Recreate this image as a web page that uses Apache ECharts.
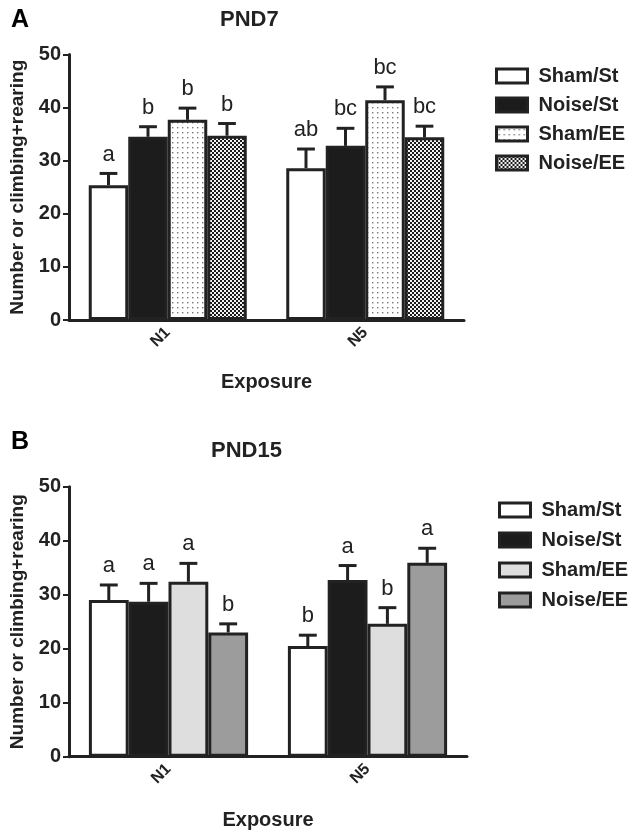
<!DOCTYPE html>
<html>
<head>
<meta charset="utf-8">
<script src="https://cdn.jsdelivr.net/npm/echarts@6/dist/echarts.min.js"></script>
<style>
  html, body { margin: 0; padding: 0; background: #fff; }
  #pnd7 { width: 638px; height: 420px; }
  #pnd15 { width: 638px; height: 418px; }
</style>
</head>
<body>
<div id="pnd7"></div>
<div id="pnd15"></div>
<script>
// categories and groups
var categories = ['N1', 'N5'];
var groups = ['Sham/St', 'Noise/St', 'Sham/EE', 'Noise/EE'];
var yTicks = [0, 10, 20, 30, 40, 50];

// PND7: one row per group, values for N1 and N5
var pnd7Means = [[25.4, 28.6], [34.5, 32.8], [37.7, 41.4], [34.7, 34.4]];
var pnd7Errors = [[2.2, 3.6], [1.9, 3.3], [2.2, 2.5], [2.3, 2.1]];
var pnd7Letters = [['a', 'ab'], ['b', 'bc'], ['b', 'bc'], ['b', 'bc']];

// PND15
var pnd15Means = [[29.0, 20.5], [28.7, 32.7], [32.4, 24.6], [23.0, 35.9]];
var pnd15Errors = [[2.8, 2.0], [3.4, 2.7], [3.4, 3.0], [1.6, 2.7]];
var pnd15Letters = [['a', 'b'], ['a', 'a'], ['a', 'b'], ['b', 'a']];

var FONT = 'Liberation Sans, Arial, sans-serif';
var INK = '#222';

function makePattern(size, draw) {
    var c = document.createElement('canvas');
    c.width = size; c.height = size;
    var ctx = c.getContext('2d');
    draw(ctx);
    return { image: c, repeat: 'repeat' };
}

var dotted = makePattern(5, function (ctx) {
    ctx.fillStyle = '#fff'; ctx.fillRect(0, 0, 5, 5);
    ctx.fillStyle = '#777'; ctx.fillRect(2, 2, 1.4, 1.4);
});
var checker = makePattern(4, function (ctx) {
    ctx.fillStyle = '#f2f2f2'; ctx.fillRect(0, 0, 4, 4);
    ctx.fillStyle = '#1a1a1a'; ctx.fillRect(0, 0, 2, 2); ctx.fillRect(2, 2, 2, 2);
});

var pnd7Colors = ['#ffffff', '#1c1c1c', dotted, checker];
var pnd15Colors = ['#ffffff', '#1c1c1c', '#dedede', '#9c9c9c'];

function buildOption(cfg) {
    var series = [];
    groups.forEach(function (g, gi) {
        series.push({
            name: g,
            type: 'bar',
            barGap: 0,
            barCategoryGap: '20%',
            data: cfg.means[gi],
            itemStyle: { color: cfg.colors[gi], borderColor: INK, borderWidth: 3 },
            z: 2
        });
    });
    groups.forEach(function (g, gi) {
        series.push({
            name: 'err' + gi,
            type: 'custom',
            z: 3,
            data: cfg.means[gi].map(function (v, ci) { return [ci, v, cfg.errors[gi][ci]]; }),
            encode: { x: 0, y: 1 },
            renderItem: function (params, api) {
                var ci = api.value(0), v = api.value(1), e = api.value(2);
                var band = api.size([1, 0])[0];
                var barW = band * 0.8 / 4;
                var x = api.coord([ci, 0])[0] + (gi - 1.5) * barW;
                var top = api.coord([ci, v])[1];
                var et = api.coord([ci, v + e])[1];
                var cap = barW * 0.45;
                var ln = { stroke: INK, lineWidth: 3 };
                return {
                    type: 'group',
                    children: [
                        { type: 'line', shape: { x1: x, y1: top, x2: x, y2: et }, style: ln },
                        { type: 'line', shape: { x1: x - cap / 2, y1: et, x2: x + cap / 2, y2: et }, style: ln },
                        { type: 'text', style: {
                            text: cfg.letters[gi][ci], x: x, y: et - 8,
                            align: 'center', verticalAlign: 'bottom',
                            font: '22px ' + FONT, fill: INK } }
                    ]
                };
            }
        });
    });

    return {
        animation: false,
        title: [
            { text: cfg.panel, left: 6, top: cfg.panelTop,
              textStyle: { fontFamily: FONT, fontSize: 25, fontWeight: 'bold', color: '#000' } },
            { text: cfg.title, left: cfg.titleLeft, top: cfg.titleTop,
              textStyle: { fontFamily: FONT, fontSize: 22, fontWeight: 'bold', color: INK } }
        ],
        legend: {
            data: groups,
            orient: 'vertical',
            left: cfg.legendLeft,
            top: cfg.legendTop,
            itemWidth: 31,
            itemHeight: 14,
            itemGap: cfg.legendGap,
            icon: 'rect',
            itemStyle: { borderColor: INK, borderWidth: 3 },
            textStyle: { fontFamily: FONT, fontSize: 20, fontWeight: 'bold', color: INK, padding: [0, 0, 0, 6] }
        },
        grid: cfg.grid,
        xAxis: {
            type: 'category',
            data: categories,
            name: 'Exposure',
            nameLocation: 'middle',
            nameGap: cfg.xNameGap,
            nameTextStyle: { fontFamily: FONT, fontSize: 20, fontWeight: 'bold', color: INK },
            axisLine: { lineStyle: { color: INK, width: 3 } },
            axisTick: { alignWithLabel: true, length: 7, lineStyle: { color: INK, width: 2 } },
            axisLabel: { rotate: 45, margin: 10, fontFamily: FONT, fontSize: 16, fontWeight: 'bold', color: INK }
        },
        yAxis: {
            type: 'value',
            min: yTicks[0],
            max: yTicks[yTicks.length - 1],
            interval: 10,
            name: 'Number or climbing+rearing',
            nameLocation: 'middle',
            nameGap: 42,
            nameTextStyle: { fontFamily: FONT, fontSize: 19, fontWeight: 'bold', color: INK },
            splitLine: { show: false },
            axisLine: { show: true, lineStyle: { color: INK, width: 3 } },
            axisTick: { show: true, length: 6, lineStyle: { color: INK, width: 2 } },
            axisLabel: { margin: 8, fontFamily: FONT, fontSize: 20, fontWeight: 'bold', color: INK }
        },
        series: series
    };
}

var chartTop = echarts.init(document.getElementById('pnd7'));
chartTop.setOption(buildOption({
    panel: 'A', panelTop: 3, title: 'PND7', titleLeft: 215, titleTop: 4,
    means: pnd7Means, errors: pnd7Errors, letters: pnd7Letters, colors: pnd7Colors,
    grid: { left: 67, right: 174, top: 54.5, bottom: 100 },
    legendLeft: 490, legendTop: 61, legendGap: 9, xNameGap: 52
}));

var chartBottom = echarts.init(document.getElementById('pnd15'));
chartBottom.setOption(buildOption({
    panel: 'B', panelTop: 5, title: 'PND15', titleLeft: 206, titleTop: 15,
    means: pnd15Means, errors: pnd15Errors, letters: pnd15Letters, colors: pnd15Colors,
    grid: { left: 67, right: 171, top: 66.7, bottom: 81.3 },
    legendLeft: 493, legendTop: 75, legendGap: 10, xNameGap: 54
}));
</script>
</body>
</html>
